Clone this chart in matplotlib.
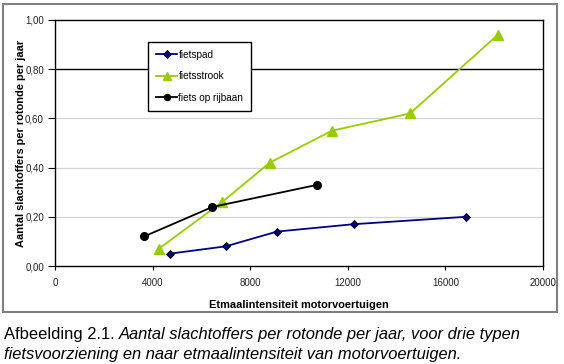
import matplotlib
matplotlib.use("Agg")
import matplotlib.pyplot as plt
from matplotlib.patches import Rectangle

plt.rcParams['font.family'] = ['Liberation Sans', 'DejaVu Sans']

# Data
fietspad_x = [4700, 7000, 9100, 12250, 16850]
fietspad_y = [0.05, 0.08, 0.14, 0.17, 0.20]
fietsstrook_x = [4250, 6850, 8800, 11350, 14550, 18150]
fietsstrook_y = [0.07, 0.26, 0.42, 0.55, 0.62, 0.94]
rijbaan_x = [3650, 6450, 10750]
rijbaan_y = [0.12, 0.24, 0.33]
x_ticks = [0, 4000, 8000, 12000, 16000, 20000]
y_ticks = [0.0, 0.2, 0.4, 0.6, 0.8, 1.0]
series_names = ["fietspad", "fietsstrook", "fiets op rijbaan"]

W, H = 564, 364
fig = plt.figure(figsize=(W / 100, H / 100), dpi=100)

# outer frame
fig.patches.append(Rectangle((3 / W, 1 - 312 / H), 554 / W, 308 / H,
                             transform=fig.transFigure, fill=False,
                             edgecolor='#808080', linewidth=1.5))

ax = fig.add_axes([55 / W, 1 - 266 / H, 488 / W, 246 / H])
ax.set_xlim(0, 20000)
ax.set_ylim(0, 1.0)
ax.set_xticks(x_ticks)
ax.set_xticklabels([str(v) for v in x_ticks])
ax.set_yticks(y_ticks)
ax.set_yticklabels([f"{v:.2f}".replace('.', ',') for v in y_ticks])
ax.tick_params(axis='both', labelsize=7, colors='black', width=0.8,
               labelcolor='#222222')
ax.tick_params(axis='x', pad=6, length=3)
ax.tick_params(axis='y', pad=3, length=5)

for v in y_ticks[1:-1]:
    if abs(v - 0.8) < 1e-9:
        ax.axhline(v, color='black', linewidth=1.0, zorder=1)
    else:
        ax.axhline(v, color='#d4d4d4', linewidth=0.9, zorder=1)

for s in ax.spines.values():
    s.set_color('black')
    s.set_linewidth(1.0)

ax.plot(fietspad_x, fietspad_y, color='#000080', marker='D', markersize=4.5,
        markerfacecolor='#000080', markeredgecolor='black', markeredgewidth=0.6,
        linewidth=1.3, label=series_names[0], zorder=3)
ax.plot(fietsstrook_x, fietsstrook_y, color='#99CC00', marker='^', markersize=6.5,
        markerfacecolor='#99CC00', markeredgecolor='#99CC00',
        linewidth=1.3, label=series_names[1], zorder=3)
ax.plot(rijbaan_x, rijbaan_y, color='black', marker='o', markersize=5.5,
        markerfacecolor='black', linewidth=1.3, label=series_names[2], zorder=3)

leg = ax.legend(loc='upper left', bbox_to_anchor=((148 - 55) / 488, (266 - 42) / 246),
                fontsize=7.2, frameon=True, fancybox=False, edgecolor='black',
                framealpha=1, borderpad=0.8, labelspacing=1.15, handlelength=2.1,
                handletextpad=0.15, borderaxespad=0, markerscale=0.8)
leg.get_frame().set_linewidth(1.0)

ax.set_xlabel("Etmaalintensiteit motorvoertuigen", fontsize=7.9, fontweight='bold',
              labelpad=8)
ax.set_ylabel("Aantal slachtoffers per rotonde per jaar", fontsize=7.95,
              fontweight='bold', labelpad=-1)

# caption
fs = 11.9
t1 = fig.text(4 / W, 1 - 334 / H, "Afbeelding 2.1. ", fontsize=fs, va='center', ha='left')
fig.canvas.draw()
r = fig.canvas.get_renderer()
bb = t1.get_window_extent(renderer=r)
fig.text(bb.x1 / W, 1 - 334 / H, "Aantal slachtoffers per rotonde per jaar, voor drie typen",
         fontsize=fs, style='italic', va='center', ha='left')
fig.text(4 / W, 1 - 354 / H, "fietsvoorziening en naar etmaalintensiteit van motorvoertuigen.",
         fontsize=fs, style='italic', va='center', ha='left')

fig.savefig("out.png", dpi=100)
